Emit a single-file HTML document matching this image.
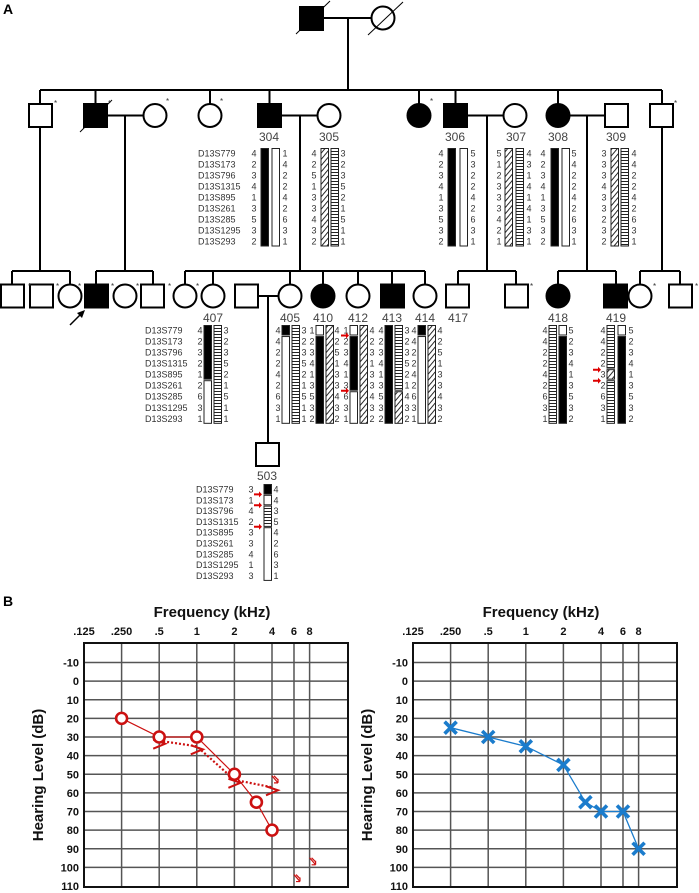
<!DOCTYPE html>
<html><head><meta charset="utf-8"><style>
html,body{margin:0;padding:0;background:#fff;}
svg{display:block;font-family:"Liberation Sans",Arial,sans-serif;}
.nm{font-size:9px;fill:#333;}
.num{font-size:9px;fill:#333;text-anchor:middle;}
.id{font-size:12px;fill:#444;text-anchor:middle;}
.st{font-size:8px;fill:#333;}
.tk{font-size:11px;font-weight:bold;fill:#111;}
</style></head><body>
<svg id="fig" width="699" height="893" viewBox="0 0 699 893" xmlns="http://www.w3.org/2000/svg">
<defs>
<pattern id="pH" width="4" height="3" patternUnits="userSpaceOnUse"><rect width="4" height="3" fill="#fff"/><line x1="0" y1="1.5" x2="4" y2="1.5" stroke="#222" stroke-width="1"/></pattern>
<pattern id="pD" width="4" height="4" patternUnits="userSpaceOnUse" patternTransform="rotate(40)"><rect width="4" height="4" fill="#fff"/><line x1="0" y1="0" x2="0" y2="4" stroke="#111" stroke-width="1.8"/></pattern>
</defs>
<text x="3" y="14" font-size="14" font-weight="bold">A</text>
<text x="3" y="606" font-size="14" font-weight="bold">B</text>
<g id="ped" stroke="#000" stroke-width="2" fill="none"></g>
<g id="haps"></g>
<g id="chartL"></g>
<g id="chartR"></g>
</svg>
<script>
const NS="http://www.w3.org/2000/svg";
function mk(parent,tag,attrs,txt){const e=document.createElementNS(NS,tag);for(const k in attrs)e.setAttribute(k,attrs[k]);if(txt!==undefined)e.textContent=txt;parent.appendChild(e);return e;}
const ped=document.getElementById('ped');
function L(x1,y1,x2,y2,w){const e=mk(ped,'line',{x1,y1,x2,y2,'stroke-width':w||2});

}
function SQ(x,y,f){const e=mk(ped,'rect',{x:x,y:y,width:23,height:23,fill:f?'#000':'#fff'});

}
function CI(cx,cy,f){const e=mk(ped,'circle',{cx:cx,cy:cy,r:11.5,fill:f?'#000':'#fff'});

}
function STAR(x,y){const e=mk(document.getElementById('haps'),'text',{x:x,y:y,class:'st'},'*');

}
function ID(x,y,t){const e=mk(document.getElementById('haps'),'text',{x:x,y:y,class:'id'},t);

}
// Gen I
L(323,18,372,18);L(348,18,348,90);L(40,90,662,90);
SQ(300,7,true);CI(383,18,false);
L(296,34,330,1,1);L(368,35,403,2,1);
// Gen II
[40,95.5,210,269.5,419,455.5,558,662].forEach(x=>L(x,90,x,104));
L(107,115.5,144,115.5);L(281,115.5,318,115.5);L(468,115.5,504,115.5);L(569,115.5,605,115.5);
L(40,127,40,271);L(125,115.5,125,271);L(300,115.5,300,271);L(487,115.5,487,271);L(587,115.5,587,271);L(662,127,662,271);
SQ(29,104,false);SQ(84,104,true);CI(155,115.5,false);CI(210,115.5,false);SQ(258,104,true);CI(329,115.5,false);
CI(419,115.5,true);SQ(444,104,true);CI(515,115.5,false);CI(558,115.5,true);SQ(605,104,false);SQ(650,104,false);
L(80,132,112,100,1);
STAR(54,106);STAR(108,106);STAR(166,104);STAR(220,104);STAR(430,104);STAR(674,106);
ID(269,141,'304');ID(329,141,'305');ID(455,141,'306');ID(516,141,'307');ID(558,141,'308');ID(616,141,'309');
// Gen III
L(12,271,70,271);L(96,271,153,271);L(185,271,425,271);L(458,271,516,271);L(558,271,616,271);L(640,271,680,271);
[12,70,96,153,185,213,290,323,358,392,425,458,516,558,616,640,680].forEach(x=>L(x,271,x,284));
SQ(1,284.5,false);SQ(30,284.5,false);CI(70,296,false);SQ(85,284.5,true);CI(125,296,false);SQ(141,284.5,false);
CI(185,296,false);CI(213,296,false);SQ(235,284.5,false);CI(290,296,false);CI(323,296,true);CI(358,296,false);
SQ(381,284.5,true);CI(425,296,false);SQ(446,284.5,false);SQ(505,284.5,false);CI(558,296,true);SQ(604,284.5,true);
CI(640,296,false);SQ(669,284.5,false);
L(258,296,279,296);L(268,296,268,443);
L(70,325,82,313,1.5);mk(ped,'polygon',{points:'85,310 77,313 82,318',fill:'#000','stroke-width':0});
[28,56,78,111,136,168,196,530,653,695].forEach(x=>STAR(x,289));
ID(213,322,'407');ID(290,322,'405');ID(323,322,'410');ID(358,322,'412');ID(392,322,'413');ID(425,322,'414');
ID(458,322,'417');ID(558,322,'418');ID(616,322,'419');
// Gen IV
SQ(256,443,false);ID(267,480,'503');
</script>
<script>
// Haplotype data
const markers=["D13S779","D13S173","D13S796","D13S1315","D13S895","D13S261","D13S285","D13S1295","D13S293"];
const h304L=[4,2,3,4,1,3,5,3,2], h304R=[1,4,2,2,4,2,6,3,1];
const h305L=[4,2,5,1,3,3,4,3,2], h305R=[3,2,3,5,2,1,5,1,1];
const h306L=[4,2,3,4,1,3,5,3,2], h306R=[5,3,2,2,4,2,6,3,1];
const h307L=[5,1,2,3,3,3,4,2,1], h307R=[4,3,1,4,1,4,1,3,1];
const h308L=[4,2,3,4,1,3,5,3,2], h308R=[5,4,2,2,4,2,6,3,1];
const h309L=[3,3,3,4,3,3,2,3,2], h309R=[4,4,2,2,4,2,6,3,1];
const h407L=[4,2,3,2,1,2,6,3,1], h407R=[3,2,3,5,2,1,5,1,1];
const h405L=[4,4,2,2,4,2,6,3,1], h405R=[3,2,3,5,2,1,5,1,1];
const h410L=[1,2,3,4,1,3,5,3,2], h410R=[4,2,5,1,3,3,4,3,2];
const h412L=[1,2,3,4,1,3,6,3,1], h412R=[4,2,3,1,3,3,4,3,2];
const h413L=[4,2,3,4,1,3,5,3,2], h413R=[3,2,3,5,2,1,4,3,2];
const h414L=[4,4,2,2,4,2,6,3,1], h414R=[4,2,5,1,3,3,4,3,2];
const h418L=[4,4,2,2,4,2,6,3,1], h418R=[5,2,3,4,1,3,5,3,2];
const h419L=[4,4,2,2,3,2,6,3,1], h419R=[5,2,3,4,1,3,5,3,2];
const h503L=[3,1,4,2,3,3,4,1,3], h503R=[4,4,3,5,4,2,6,3,1];
const hg=document.getElementById('haps');
const fills={B:'#000',W:'#fff',H:'url(#pH)',D:'url(#pD)'};
function bar(x,y0,step,code){
  let i=0;
  while(i<code.length){let j=i;while(j<code.length&&code[j]===code[i])j++;
    const top=y0+i*step-5, bot=y0+(j-1)*step+5.5;
    const r=mk(hg,'rect',{x:x,y:top+0.5,width:7.5,height:bot-top-1,fill:fills[code[i]],stroke:'#222','stroke-width':1});
    
    
    i=j;}
}
function nums(x,y0,step,vals){vals.forEach((v,i)=>{const t=mk(hg,'text',{x:x,y:y0+i*step+3.5,class:'num'},v);

});}
function names(x,y0,step){markers.forEach((m,i)=>{const t=mk(hg,'text',{x:x,y:y0+i*step+3.5,class:'nm'},m);

});}
function hap(y0,step,lx,b1x,c1,b2x,c2,rx,lv,rv){nums(lx,y0,step,lv);bar(b1x,y0,step,c1);if(b2x!==null)bar(b2x,y0,step,c2);nums(rx,y0,step,rv);}
const g2=153,s2=11,g3=330,s3=11.04,g4=489,s4=10.8;
names(198,g2,s2);names(145,g3,s3);names(196,g4,s4);
hap(g2,s2,254,261,'BBBBBBBBB',272,'WWWWWWWWW',285,h304L,h304R);
hap(g2,s2,314,321,'DDDDDDDDD',331,'HHHHHHHHH',343,h305L,h305R);
hap(g2,s2,441,448,'BBBBBBBBB',460,'WWWWWWWWW',473,h306L,h306R);
hap(g2,s2,499,505,'DDDDDDDDD',516,'HHHHHHHHH',529,h307L,h307R);
hap(g2,s2,543,551,'BBBBBBBBB',562,'WWWWWWWWW',574,h308L,h308R);
hap(g2,s2,604,611,'DDDDDDDDD',621,'HHHHHHHHH',634,h309L,h309R);
hap(g3,s3,200,204,'BBBBBWWWW',214,'HHHHHHHHH',226,h407L,h407R);
hap(g3,s3,278,282,'BWWWWWWWW',292,'HHHHHHHHH',304,h405L,h405R);
hap(g3,s3,312,316,'WBBBBBBBB',326,'DDDDDDDDD',337,h410L,h410R);
hap(g3,s3,346,350,'WBBBBBWWW',360,'DDDDDDDDD',372,h412L,h412R);
hap(g3,s3,381,385,'BBBBBBBBB',395,'HHHHHHDDD',407,h413L,h413R);
hap(g3,s3,414,418,'BWWWWWWWW',428,'DDDDDDDDD',440,h414L,h414R);
hap(g3,s3,545,549,'HHHHHHHHH',559,'WBBBBBBBB',571,h418L,h418R);
hap(g3,s3,603,607,'HHHHDHHHH',618,'WBBBBBBBB',631,h419L,h419R);
hap(g4,s4,251,264,'BWHHWWWWW',null,'',276,h503L,h503R);
function redArrow(x,y){const p=mk(hg,'path',{d:`M${x} ${y-1} h5 v-2 l3 3 l-3 3 v-2 h-5z`,fill:'#d00'});

}
redArrow(341,g3+s3*0.5);redArrow(341,g3+s3*5.5);
redArrow(593,g3+s3*3.6);redArrow(593,g3+s3*4.6);
redArrow(254,g4+s4*0.5);redArrow(254,g4+s4*1.5);redArrow(254,g4+s4*3.5);
</script>
<script>
// Audiogram data
const freqTicks=[0.125,0.25,0.5,1,2,4,6,8];
const freqTickLabels=[".125",".250",".5","1","2","4","6","8"];
const dbTicks=[-10,0,10,20,30,40,50,60,70,80,90,100,110];
const leftAirFreq=[0.25,0.5,1,2,3,4];
const leftAirDb=[20,30,30,50,65,80];
const leftBoneFreq=[0.5,1,2,4];
const leftBoneDb=[32,35,53,57];
const leftNoRespFreq=[4,6,8];
const leftNoRespDb=[53,106,97];
const rightAirFreq=[0.25,0.5,1,2,3,4,6,8];
const rightAirDb=[25,30,35,45,65,70,70,90];

function makeChart(gid,L0,R0){
  const g=document.getElementById(gid);
  const T=643,B=887;
  const xs=f=>L0+Math.log2(f/0.125)*37.6;
  const ys=d=>662.5+(d+10)*1.8625;
  mk(g,'rect',{x:L0,y:T,width:R0-L0,height:B-T,fill:'#fff',stroke:'none'});
  dbTicks.forEach(d=>{if(d<110){const l=mk(g,'line',{x1:L0,x2:R0,y1:ys(d),y2:ys(d),stroke:'#555','stroke-width':1.5});
    
    }
    const t=mk(g,'text',{x:L0-5,y:ys(d)+4,class:'tk','text-anchor':'end'},d);
    
    });
  freqTicks.forEach((f,i)=>{if(i>0){const l=mk(g,'line',{x1:xs(f),x2:xs(f),y1:T,y2:B,stroke:'#555','stroke-width':1.5});
    
    }
    const t=mk(g,'text',{x:xs(f),y:635,class:'tk','text-anchor':'middle'},freqTickLabels[i]);
    
    });
  const fr=mk(g,'rect',{x:L0,y:T,width:R0-L0,height:B-T,fill:'none',stroke:'#111','stroke-width':2});
  
  
  const tt=mk(g,'text',{x:(L0+R0)/2-4,y:617,'font-size':15,'font-weight':'bold','text-anchor':'middle',fill:'#111'},'Frequency (kHz)');
  
  
  const yt=mk(g,'text',{x:0,y:0,'font-size':15,'font-weight':'bold','text-anchor':'middle',fill:'#111',transform:`translate(${L0-41},775) rotate(-90)`},'Hearing Level (dB)');
  
  
  return {g,xs,ys};
}
const cl=makeChart('chartL',84,348);
const red='#cc1111';
const lp=mk(cl.g,'polyline',{points:leftAirFreq.map((f,i)=>cl.xs(f)+','+cl.ys(leftAirDb[i])).join(' '),fill:'none',stroke:red,'stroke-width':1.2});


const bp=mk(cl.g,'polyline',{points:leftBoneFreq.map((f,i)=>cl.xs(f)+','+cl.ys(leftBoneDb[i])).join(' '),fill:'none',stroke:red,'stroke-width':2.2,'stroke-dasharray':'2 2'});


leftBoneFreq.forEach((f,i)=>{const x=cl.xs(f)+2,y=cl.ys(leftBoneDb[i])+3;
  const m=mk(cl.g,'polyline',{points:`${x-8},${y-4} ${x+4},${y} ${x-8},${y+5}`,fill:'none',stroke:red,'stroke-width':2});
  
  });
leftAirFreq.forEach((f,i)=>{const c=mk(cl.g,'circle',{cx:cl.xs(f),cy:cl.ys(leftAirDb[i]),r:5.5,fill:'#fff',stroke:red,'stroke-width':2.6});
  
  });
leftNoRespFreq.forEach((f,i)=>{const x=cl.xs(f)+3,y=cl.ys(leftNoRespDb[i]);
  const a=mk(cl.g,'path',{d:`M${x-3},${y-4} L${x+3},${y+3} M${x+3},${y+3} h-4 M${x+3},${y+3} v-4 M${x-1},${y-4} L${x+3},${y}`,fill:'none',stroke:red,'stroke-width':1.2});
  
  });
const cr=makeChart('chartR',413,677);
const blue='#1b7ccc';
const rp=mk(cr.g,'polyline',{points:rightAirFreq.map((f,i)=>cr.xs(f)+','+cr.ys(rightAirDb[i])).join(' '),fill:'none',stroke:blue,'stroke-width':1.3});


rightAirFreq.forEach((f,i)=>{const x=cr.xs(f),y=cr.ys(rightAirDb[i]);
  const m=mk(cr.g,'path',{d:`M${x-6},${y-6} L${x+6},${y+6} M${x+6},${y-6} L${x-6},${y+6}`,stroke:blue,'stroke-width':3.6,fill:'none'});
  
  });
</script>
</body></html>
